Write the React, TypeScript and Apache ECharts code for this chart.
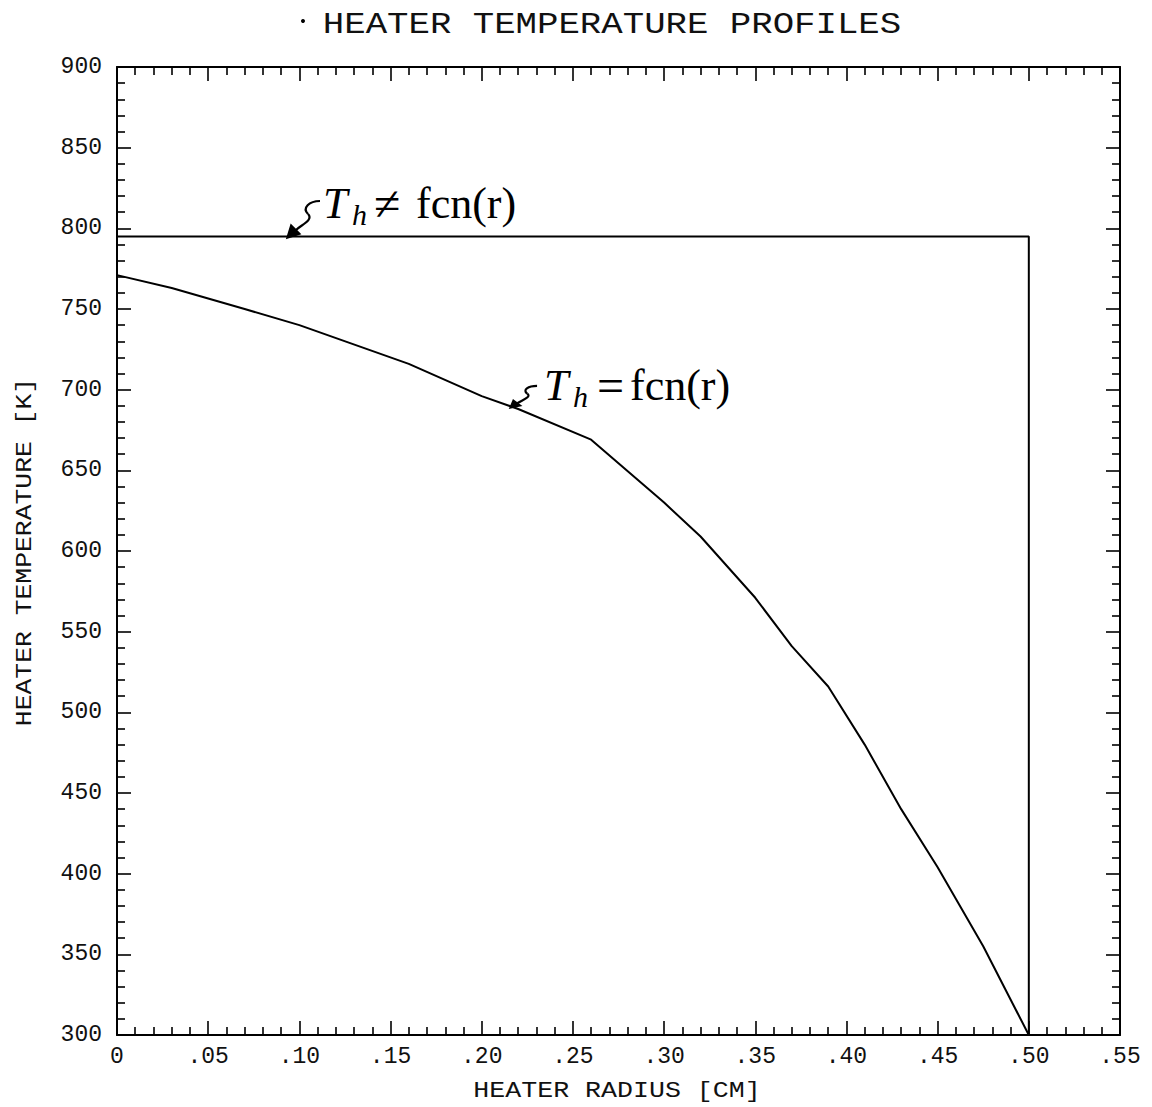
import React, { useEffect, useRef } from "react";
import * as echarts from "echarts";

// ---- data ----
const radiusVarying = [0, 0.03, 0.07, 0.1, 0.16, 0.2, 0.22, 0.26, 0.3, 0.32, 0.35, 0.37, 0.39, 0.41, 0.43, 0.45, 0.475, 0.5];
const tempVarying = [771, 763, 750, 740, 716, 696, 688, 669, 630, 609, 571, 541, 516, 480, 440, 404, 355, 300];
const radiusUniform = [0, 0.5, 0.5];
const tempUniform = [795, 795, 300];

const titleText = "HEATER TEMPERATURE PROFILES";
const xName = "HEATER RADIUS [CM]";
const yName = "HEATER TEMPERATURE [K]";

const xMin = 0, xMax = 0.55, xStep = 0.05;
const yMin = 300, yMax = 900, yStep = 50;

const MONO = "'Liberation Mono', 'DejaVu Sans Mono', monospace";
const SERIF = "'Liberation Serif', 'DejaVu Serif', serif";

function fmtX(v: number): string {
  if (Math.abs(v) < 1e-9) return "0";
  return v.toFixed(2).replace(/^0/, "");
}

function arrow(tx: number, ty: number, sx: number, sy: number) {
  const P = (dx: number, dy: number) => [tx + dx * sx, ty + dy * sy];
  const [ax, ay] = P(33, -37);
  const [bx, by] = P(21, -24);
  const [c1x, c1y] = P(22, -37);
  const [c2x, c2y] = P(15, -30);
  const [d1x, d1y] = P(27, -18);
  const [d2x, d2y] = P(14, -13);
  const [ex, ey] = P(9, -8);
  const stroke = { stroke: "#000", lineWidth: 2.2, fill: null as any };
  return [
    { type: "bezierCurve", shape: { x1: ax, y1: ay, cpx1: c1x, cpy1: c1y, cpx2: c2x, cpy2: c2y, x2: bx, y2: by }, style: stroke, z: 10 },
    { type: "bezierCurve", shape: { x1: bx, y1: by, cpx1: d1x, cpy1: d1y, cpx2: d2x, cpy2: d2y, x2: ex, y2: ey }, style: stroke, z: 10 },
    { type: "polygon", shape: { points: [P(0, 0), P(4, -13), P(13, -4)] }, style: { fill: "#000", stroke: "#000", lineWidth: 1.5 }, z: 10 },
  ];
}

function annotation(x: number, baseline: number, rel: string, relX: number, fcnX: number) {
  const big = 44, small = 30;
  const mid = (b: number, fs: number) => b - fs * 0.32;
  return [
    { type: "text", x, y: mid(baseline, big), style: { text: "T", font: `italic ${big}px ${SERIF}`, fill: "#000", align: "left", verticalAlign: "middle" }, z: 10 },
    { type: "text", x: x + 29, y: mid(baseline + 6, small), style: { text: "h", font: `italic ${small}px ${SERIF}`, fill: "#000", align: "left", verticalAlign: "middle" }, z: 10 },
    { type: "text", x: relX, y: mid(baseline, big), style: { text: rel, font: `${big + 4}px ${SERIF}`, fill: "#000", align: "left", verticalAlign: "middle" }, z: 10 },
    { type: "text", x: fcnX, y: mid(baseline, big), style: { text: "fcn(r)", font: `${big}px ${SERIF}`, fill: "#000", align: "left", verticalAlign: "middle" }, z: 10 },
  ];
}

function axisCommon() {
  return {
    axisLine: { show: true, onZero: false, lineStyle: { color: "#000", width: 2 } },
    axisTick: { show: true, inside: true, length: 14, lineStyle: { color: "#000", width: 1.6 } },
    minorTick: { show: true, splitNumber: 5, length: 8, lineStyle: { color: "#000", width: 1.6 } },
    splitLine: { show: false },
    minorSplitLine: { show: false },
  };
}

export default function App() {
  const ref = useRef<HTMLDivElement>(null);
  useEffect(() => {
    if (!ref.current) return;
    const chart = echarts.init(ref.current, undefined, { renderer: "svg" });
    const labelX = {
      show: true,
      color: "#111",
      fontFamily: MONO,
      fontSize: 23,
      margin: 10,
      formatter: (v: number) => fmtX(v),
    };
    const labelY = {
      show: true,
      color: "#111",
      fontFamily: MONO,
      fontSize: 23,
      margin: 15,
      formatter: (v: number) => String(v),
    };
    const option: any = {
      animation: false,
      backgroundColor: "#fff",
      grid: { left: 117, right: 32, top: 67, bottom: 72, containLabel: false },
      xAxis: [
        { type: "value", position: "bottom", min: xMin, max: xMax, interval: xStep, ...axisCommon(), axisLabel: labelX },
        { type: "value", position: "top", min: xMin, max: xMax, interval: xStep, ...axisCommon(), axisLabel: { show: false } },
      ],
      yAxis: [
        { type: "value", position: "left", min: yMin, max: yMax, interval: yStep, ...axisCommon(), axisLabel: labelY },
        { type: "value", position: "right", min: yMin, max: yMax, interval: yStep, ...axisCommon(), axisLabel: { show: false } },
      ],
      series: [
        {
          name: "Th = fcn(r)",
          type: "line",
          xAxisIndex: 0,
          yAxisIndex: 0,
          data: radiusVarying.map((r, i) => [r, tempVarying[i]]),
          showSymbol: false,
          symbol: "none",
          lineStyle: { color: "#000", width: 2 },
          z: 5,
        },
        {
          name: "Th != fcn(r)",
          type: "line",
          xAxisIndex: 0,
          yAxisIndex: 0,
          data: radiusUniform.map((r, i) => [r, tempUniform[i]]),
          showSymbol: false,
          symbol: "none",
          lineStyle: { color: "#000", width: 2 },
          z: 5,
        },
      ],
      graphic: [
        { type: "circle", shape: { cx: 303, cy: 21, r: 2 }, style: { fill: "#000" } },
        { type: "text", x: 612, y: 25, scaleX: 1.19, style: { text: titleText, font: `30px ${MONO}`, fill: "#111", align: "center", verticalAlign: "middle" } },
        { type: "text", x: 617, y: 1091, scaleX: 1.21, style: { text: xName, font: `22px ${MONO}`, fill: "#111", align: "center", verticalAlign: "middle" } },
        { type: "text", x: 25, y: 552, rotation: Math.PI / 2, scaleX: 1.2, style: { text: yName, font: `22px ${MONO}`, fill: "#111", align: "center", verticalAlign: "middle" } },
        ...annotation(323, 218, "≠", 374, 416),
        ...arrow(287, 238, 1, 1),
        ...annotation(544, 400, "=", 597, 630),
        ...arrow(510, 408, 0.82, 0.6),
      ],
    };
    chart.setOption(option);
    return () => chart.dispose();
  }, []);
  return (
    <div
      ref={ref}
      style={{ position: "absolute", left: 0, top: 0, width: 1152, height: 1107, background: "#fff" }}
    />
  );
}
